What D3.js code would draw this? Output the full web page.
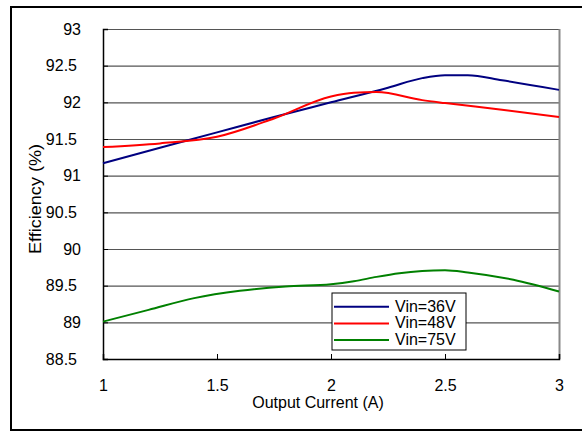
<!DOCTYPE html>
<html><head><meta charset="utf-8">
<script src="https://cdn.jsdelivr.net/npm/d3@7"></script>
<style>body{margin:0;background:#fff}svg{display:block}text{font-family:"Liberation Sans",Arial,sans-serif}</style>
</head><body>
<svg id="c" width="582" height="432"></svg>
<script>
const xTicks = [1, 1.5, 2, 2.5, 3];
const yTicks = [88.5, 89, 89.5, 90, 90.5, 91, 91.5, 92, 92.5, 93];
const seriesNames = ["Vin=36V", "Vin=48V", "Vin=75V"];
const seriesColors = ["#000080", "#ff0000", "#008000"];
const x36 = [1, 1.25, 1.5, 1.75, 2, 2.25, 2.4, 2.5, 2.6, 2.75, 3];
const y36 = [91.17, 91.38, 91.59, 91.8, 92.0, 92.2, 92.33, 92.37, 92.37, 92.3, 92.17];
const x48 = [1, 1.25, 1.5, 1.75, 2, 2.1, 2.2, 2.4, 2.5, 2.75, 3];
const y48 = [91.39, 91.44, 91.53, 91.78, 92.08, 92.13, 92.14, 92.03, 91.99, 91.9, 91.8];
const x75 = [1, 1.2, 1.4, 1.6, 1.8, 2.0, 2.1, 2.2, 2.3, 2.4, 2.5, 2.6, 2.8, 3.0];
const y75 = [89.01, 89.17, 89.33, 89.43, 89.49, 89.52, 89.56, 89.62, 89.67, 89.70, 89.71, 89.68, 89.58, 89.42];

const svg = d3.select("#c");
const L = 103, R = 559, T = 29, B = 359;
const x = d3.scaleLinear().domain([1, 3]).range([L, R]);
const y = d3.scaleLinear().domain([88.5, 93]).range([B, T]);

// outer frame
svg.append("rect").attr("x", 11).attr("y", 7).attr("width", 580).attr("height", 423)
  .attr("fill", "none").attr("stroke", "#000").attr("stroke-width", 2);

// grid
svg.append("g").selectAll("line").data(yTicks.filter(d => d > 88.5)).join("line")
  .attr("x1", L).attr("x2", R).attr("y1", d => y(d) + 0.5).attr("y2", d => y(d) + 0.5)
  .attr("stroke", "#555").attr("stroke-width", 1.2);
// right border
svg.append("line").attr("x1", R + 0.5).attr("x2", R + 0.5).attr("y1", T).attr("y2", B)
  .attr("stroke", "#888").attr("stroke-width", 2);

// axes
const yAxis = d3.axisLeft(y).tickValues(yTicks).tickSize(-5).tickPadding(22).tickFormat(d => d3.format("")(d));
const gy = svg.append("g").attr("transform", `translate(${L},0)`).call(yAxis);
gy.selectAll(".tick text").attr("dx", d => Number.isInteger(d) ? 0 : -4);
const xAxis = d3.axisBottom(x).tickValues(xTicks).tickSize(-5).tickPadding(21).tickFormat(d => d3.format("")(d));
const gx = svg.append("g").attr("transform", `translate(0,${B})`).call(xAxis);
[gy, gx].forEach(g => {
  g.select(".domain").attr("stroke", "#000").attr("stroke-width", 1.5);
  g.selectAll(".tick line").attr("stroke", "#000").attr("stroke-width", 1);
  g.selectAll(".tick text").attr("font-size", 16).attr("fill", "#000").attr("font-family", "Liberation Sans, Arial, sans-serif");
});

// titles
svg.append("text").attr("x", 318).attr("y", 408).attr("text-anchor", "middle")
  .attr("font-size", 16).text("Output Current (A)");
svg.append("text").attr("transform", "translate(41,199) rotate(-90)").attr("text-anchor", "middle")
  .attr("font-size", 16).attr("textLength", 110).attr("lengthAdjust", "spacingAndGlyphs").text("Efficiency (%)");

// lines
const data = [[x36, y36], [x48, y48], [x75, y75]];
const line = d3.line().x(d => x(d[0])).y(d => y(d[1])).curve(d3.curveMonotoneX);
data.forEach((s, i) => {
  const pts = s[0].map((v, j) => [v, s[1][j]]);
  svg.append("path").datum(pts).attr("d", line).attr("fill", "none")
    .attr("stroke", seriesColors[i]).attr("stroke-width", 2);
});

// legend
const lg = svg.append("g");
lg.append("rect").attr("x", 332).attr("y", 293).attr("width", 134).attr("height", 57)
  .attr("fill", "#fff").attr("stroke", "#000").attr("stroke-width", 1);
seriesNames.forEach((n, i) => {
  const yy = 306.7 + i * 16.7;
  lg.append("line").attr("x1", 334).attr("x2", 389).attr("y1", yy).attr("y2", yy)
    .attr("stroke", seriesColors[i]).attr("stroke-width", 2);
  lg.append("text").attr("x", 395).attr("y", yy + 5).attr("font-size", 16).text(n);
});
</script>
</body></html>
